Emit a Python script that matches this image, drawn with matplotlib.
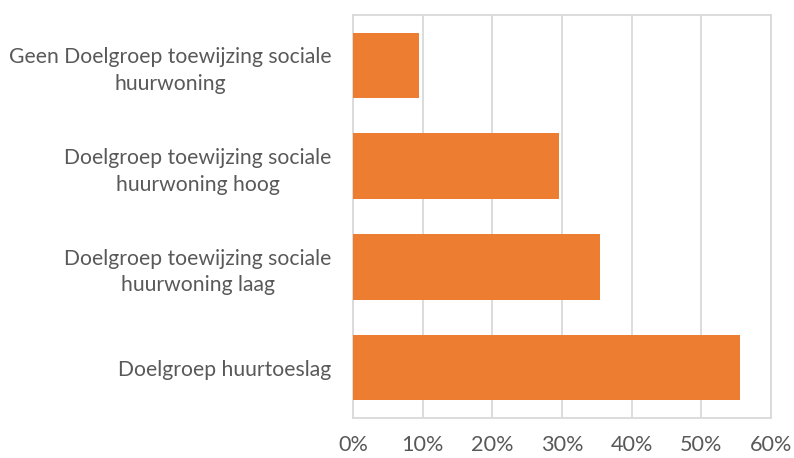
import matplotlib
matplotlib.use("Agg")
import matplotlib.pyplot as plt
from matplotlib.ticker import PercentFormatter

categories = [
    "Geen Doelgroep toewijzing sociale\nhuurwoning",
    "Doelgroep toewijzing sociale\nhuurwoning hoog",
    "Doelgroep toewijzing sociale\nhuurwoning laag",
    "Doelgroep huurtoeslag",
]
values = [0.095, 0.295, 0.355, 0.555]
xticks = [0, 0.1, 0.2, 0.3, 0.4, 0.5, 0.6]

bar_color = "#ED7D31"
text_color = "#595959"
grid_color = "#D9D9D9"

plt.rcParams["font.family"] = ["Lato", "DejaVu Sans"]

fig = plt.figure(figsize=(7.94, 4.58), dpi=100)
ax = fig.add_axes([353 / 794, 1 - 418 / 458, (771 - 353) / 794, (418 - 15) / 458])

ypos = list(range(len(categories)))
ax.barh(ypos, values, height=0.65, color=bar_color, zorder=3)
ax.set_ylim(len(categories) - 0.5, -0.5)
ax.set_xlim(0, 0.6)
ax.set_xticks(xticks)
ax.xaxis.set_major_formatter(PercentFormatter(1.0, decimals=0))
ax.set_yticks(ypos)
ax.set_yticklabels(categories, multialignment="center", linespacing=1.4)

ax.grid(axis="x", color=grid_color, linewidth=1.3, zorder=0)
for s in ax.spines.values():
    s.set_color(grid_color)
    s.set_linewidth(1.3)

ax.tick_params(axis="both", length=0, labelcolor=text_color)
ax.tick_params(axis="y", labelsize=15.2, pad=15.5)
ax.tick_params(axis="x", labelsize=15.6, pad=12)

fig.savefig("out.png", dpi=100)
